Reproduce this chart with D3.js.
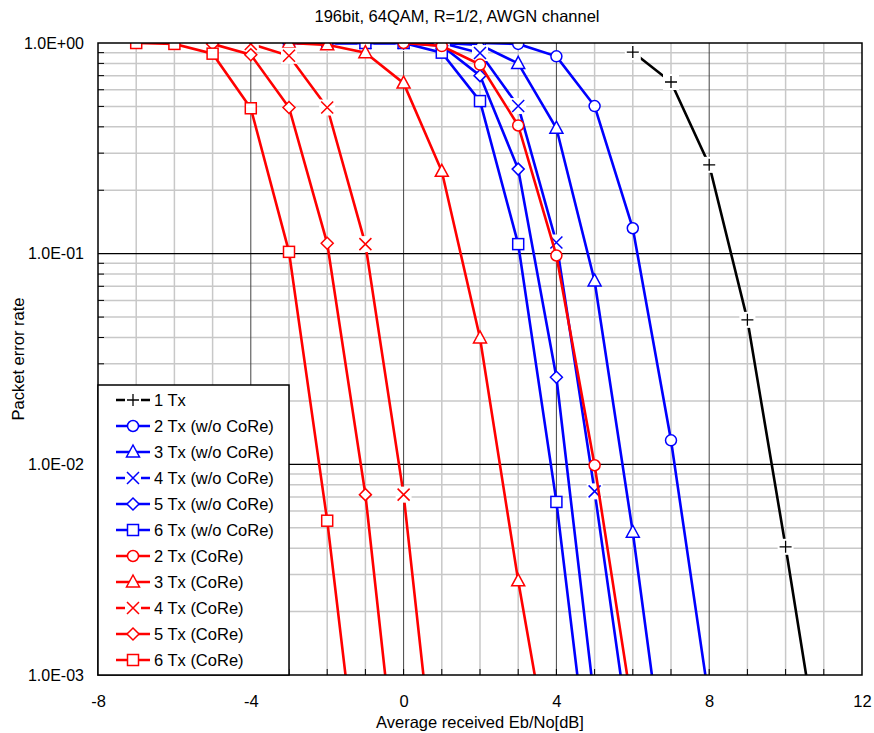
<!DOCTYPE html>
<html>
<head>
<meta charset="utf-8">
<script src="https://cdn.jsdelivr.net/npm/d3@7"></script>
<style>
  body { margin: 0; background: #fff; }
  svg { display: block; font-family: "Liberation Sans", Arial, sans-serif; }
</style>
</head>
<body>
<div id="chart"></div>
<script>
// PER vs Eb/No, 196bit 64QAM R=1/2, AWGN

const width = 874;
const height = 733;

const seriesNames = [
  "1 Tx",
  "2 Tx (w/o CoRe)",
  "3 Tx (w/o CoRe)",
  "4 Tx (w/o CoRe)",
  "5 Tx (w/o CoRe)",
  "6 Tx (w/o CoRe)",
  "2 Tx (CoRe)",
  "3 Tx (CoRe)",
  "4 Tx (CoRe)",
  "5 Tx (CoRe)",
  "6 Tx (CoRe)",
];
const seriesColours = ["#000", "#0000ff", "#0000ff", "#0000ff", "#0000ff", "#0000ff",
  "#ff0000", "#ff0000", "#ff0000", "#ff0000", "#ff0000"];
const seriesMarkers = ["plus", "circle", "triangle", "cross", "diamond", "square",
  "circle", "triangle", "cross", "diamond", "square"];

// Eb/No points (dB) and packet error rate for each curve
const ebno1Tx = [6, 7, 8, 9, 10, 11];
const per1Tx = [0.906, 0.653, 0.264, 0.0485, 0.00406, 0.0003];

const ebno2TxNo = [-3, -2, -1, 0, 1, 2, 3, 4, 5, 6, 7, 8];
const per2TxNo = [1, 1, 1, 1, 1, 1, 0.99, 0.864, 0.502, 0.132, 0.013, 0.00075];
const ebno3TxNo = [-3, -2, -1, 0, 1, 2, 3, 4, 5, 6, 7];
const per3TxNo = [1, 1, 1, 1, 1, 0.98, 0.8, 0.394, 0.0742, 0.00476, 0.00021];
const ebno4TxNo = [-3, -2, -1, 0, 1, 2, 3, 4, 5, 6];
const per4TxNo = [1, 1, 1, 1, 1, 0.896, 0.502, 0.113, 0.00744, 0.00039];
const ebno5TxNo = [-3, -2, -1, 0, 1, 2, 3, 4, 5];
const per5TxNo = [1, 1, 1, 1, 0.97, 0.7, 0.252, 0.0259, 0.00074];
const ebno6TxNo = [-3, -2, -1, 0, 1, 2, 3, 4, 5];
const per6TxNo = [1, 1, 1, 1, 0.9, 0.53, 0.111, 0.00663, 0.00021];

const ebno2TxCoRe = [0, 1, 2, 3, 4, 5, 6];
const per2TxCoRe = [1, 0.967, 0.79, 0.406, 0.098, 0.0099, 0.00067];
const ebno3TxCoRe = [-3, -2, -1, 0, 1, 2, 3, 4];
const per3TxCoRe = [1, 0.98, 0.9, 0.645, 0.246, 0.0398, 0.0028, 0.00026];
const ebno4TxCoRe = [-4, -3, -2, -1, 0, 1];
const per4TxCoRe = [0.99, 0.87, 0.494, 0.111, 0.00718, 0.00016];
const ebno5TxCoRe = [-5, -4, -3, -2, -1, 0];
const per5TxCoRe = [0.99, 0.88, 0.494, 0.112, 0.00718, 0.00016];
const ebno6TxCoRe = [-7, -6, -5, -4, -3, -2, -1];
const per6TxCoRe = [1, 0.99, 0.89, 0.49, 0.102, 0.0054, 0.00016];

const seriesX = [ebno1Tx, ebno2TxNo, ebno3TxNo, ebno4TxNo, ebno5TxNo, ebno6TxNo,
  ebno2TxCoRe, ebno3TxCoRe, ebno4TxCoRe, ebno5TxCoRe, ebno6TxCoRe];
const seriesY = [per1Tx, per2TxNo, per3TxNo, per4TxNo, per5TxNo, per6TxNo,
  per2TxCoRe, per3TxCoRe, per4TxCoRe, per5TxCoRe, per6TxCoRe];

const xTicks = [-8, -4, 0, 4, 8, 12];
const yTicks = [1, 0.1, 0.01, 0.001];
const yTickLabels = ["1.0E+00", "1.0E-01", "1.0E-02", "1.0E-03"];

const margin = { top: 43, right: 12, bottom: 58, left: 98 };
const plotW = width - margin.left - margin.right;
const plotH = height - margin.top - margin.bottom;

const x = d3.scaleLinear().domain([-8, 12]).range([0, plotW]);
const y = d3.scaleLog().domain([0.001, 1]).range([plotH, 0]);

const svg = d3.select("#chart").append("svg")
  .attr("width", width)
  .attr("height", height);

svg.append("text")
  .attr("x", 457)
  .attr("y", 22)
  .attr("text-anchor", "middle")
  .style("font-size", "16.5px")
  .text("196bit, 64QAM, R=1/2, AWGN channel");

const g = svg.append("g").attr("transform", `translate(${margin.left},${margin.top})`);

// minor grid
const minorX = d3.range(-8, 13, 1).filter((v) => v % 4 !== 0);
const minorY = [];
[0.001, 0.01, 0.1].forEach((dec) => {
  for (let k = 2; k <= 9; k++) minorY.push(dec * k);
});

g.append("g").selectAll("line").data(minorX).enter().append("line")
  .attr("x1", (d) => x(d)).attr("x2", (d) => x(d))
  .attr("y1", 0).attr("y2", plotH)
  .attr("stroke", "#c8c8c8").attr("stroke-width", 1.5);
g.append("g").selectAll("line").data(minorY).enter().append("line")
  .attr("x1", 0).attr("x2", plotW)
  .attr("y1", (d) => y(d)).attr("y2", (d) => y(d))
  .attr("stroke", "#c8c8c8").attr("stroke-width", 1.5);

// major grid
g.append("g").selectAll("line").data([-4, 0, 4, 8]).enter().append("line")
  .attr("x1", (d) => x(d)).attr("x2", (d) => x(d))
  .attr("y1", 0).attr("y2", plotH)
  .attr("stroke", "#444").attr("stroke-width", 1);
g.append("g").selectAll("line").data([0.1, 0.01]).enter().append("line")
  .attr("x1", 0).attr("x2", plotW)
  .attr("y1", (d) => y(d)).attr("y2", (d) => y(d))
  .attr("stroke", "#000").attr("stroke-width", 1.2);

// inside tick marks
g.append("g").selectAll("line").data(minorY).enter().append("line")
  .attr("x1", 0).attr("x2", 6)
  .attr("y1", (d) => y(d)).attr("y2", (d) => y(d))
  .attr("stroke", "#000").attr("stroke-width", 1);
g.append("g").selectAll("line").data(d3.range(-7, 12, 1)).enter().append("line")
  .attr("x1", (d) => x(d)).attr("x2", (d) => x(d))
  .attr("y1", plotH).attr("y2", plotH - 6)
  .attr("stroke", "#000").attr("stroke-width", 1);

// axes (labels only)
const xAxis = g.append("g")
  .attr("transform", `translate(0,${plotH})`)
  .call(d3.axisBottom(x).tickValues(xTicks).tickSize(0).tickPadding(20)
    .tickFormat((d) => String(d)));
xAxis.select(".domain").remove();
xAxis.selectAll("text").style("font-size", "16.5px").style("font-family", "Liberation Sans, Arial, sans-serif");

const yAxis = g.append("g")
  .call(d3.axisLeft(y).tickValues(yTicks).tickSize(0).tickPadding(14)
    .tickFormat((d, i) => yTickLabels[i]));
yAxis.select(".domain").remove();
yAxis.selectAll("text").style("font-size", "16px").style("font-family", "Liberation Sans, Arial, sans-serif");

svg.append("text")
  .attr("x", margin.left + plotW / 2)
  .attr("y", 728)
  .attr("text-anchor", "middle")
  .style("font-size", "16.5px")
  .text("Average received Eb/No[dB]");

svg.append("text")
  .attr("transform", `translate(24,${margin.top + plotH / 2}) rotate(-90)`)
  .attr("text-anchor", "middle")
  .style("font-size", "16.5px")
  .text("Packet error rate");

// curves
svg.append("defs").append("clipPath").attr("id", "plot-clip")
  .append("rect").attr("width", plotW).attr("height", plotH);

const curves = g.append("g").attr("clip-path", "url(#plot-clip)");

const line = d3.line().x((d) => x(d[0])).y((d) => y(d[1]));

const drawMarker = function (sel, type, colour, cx, cy) {
  const m = sel.append("g").attr("transform", `translate(${cx},${cy})`);
  if (type === "circle") {
    m.append("circle").attr("r", 5.5).attr("fill", "#fff").attr("stroke", colour).attr("stroke-width", 1.5);
  } else if (type === "square") {
    m.append("rect").attr("x", -5.5).attr("y", -5.5).attr("width", 11).attr("height", 11)
      .attr("fill", "#fff").attr("stroke", colour).attr("stroke-width", 1.5);
  } else if (type === "triangle") {
    m.append("path").attr("d", "M0,-7L6.5,5L-6.5,5Z")
      .attr("fill", "#fff").attr("stroke", colour).attr("stroke-width", 1.5);
  } else if (type === "diamond") {
    m.append("path").attr("d", "M0,-6L6,0L0,6L-6,0Z")
      .attr("fill", "#fff").attr("stroke", colour).attr("stroke-width", 1.5);
  } else if (type === "cross") {
    m.append("rect").attr("x", -8).attr("y", -8).attr("width", 16).attr("height", 16).attr("fill", "#fff");
    m.append("path").attr("d", "M-6,-6L6,6M-6,6L6,-6")
      .attr("stroke", colour).attr("stroke-width", 1.5);
  } else if (type === "plus") {
    m.append("rect").attr("x", -8).attr("y", -8).attr("width", 16).attr("height", 16).attr("fill", "#fff");
    m.append("path").attr("d", "M-6,0L6,0M0,-6L0,6")
      .attr("stroke", colour).attr("stroke-width", 1.3);
  }
};

seriesNames.forEach(function (name, i) {
  const pts = seriesX[i].map((v, j) => [v, seriesY[i][j]]);
  const sg = curves.append("g").attr("class", "series");
  sg.append("path")
    .datum(pts)
    .attr("d", line)
    .attr("fill", "none")
    .attr("stroke", seriesColours[i])
    .attr("stroke-width", 2.6);
  pts.forEach(function (p) {
    drawMarker(sg, seriesMarkers[i], seriesColours[i], x(p[0]), y(p[1]));
  });
});

// frame
g.append("rect")
  .attr("width", plotW).attr("height", plotH)
  .attr("fill", "none").attr("stroke", "#000").attr("stroke-width", 1.5);

// legend
const legend = g.append("g");
legend.append("rect")
  .attr("x", 0).attr("y", 342)
  .attr("width", 191).attr("height", plotH - 342)
  .attr("fill", "#fff").attr("stroke", "#000").attr("stroke-width", 1.5);

seriesNames.forEach(function (name, i) {
  const ly = 357 + i * 26;
  legend.append("line")
    .attr("x1", 18).attr("x2", 52)
    .attr("y1", ly).attr("y2", ly)
    .attr("stroke", seriesColours[i]).attr("stroke-width", 2.6);
  drawMarker(legend, seriesMarkers[i], seriesColours[i], 35, ly);
  legend.append("text")
    .attr("x", 56).attr("y", ly)
    .attr("dy", "0.35em")
    .style("font-size", "16.5px")
    .text(name);
});
</script>
</body>
</html>
